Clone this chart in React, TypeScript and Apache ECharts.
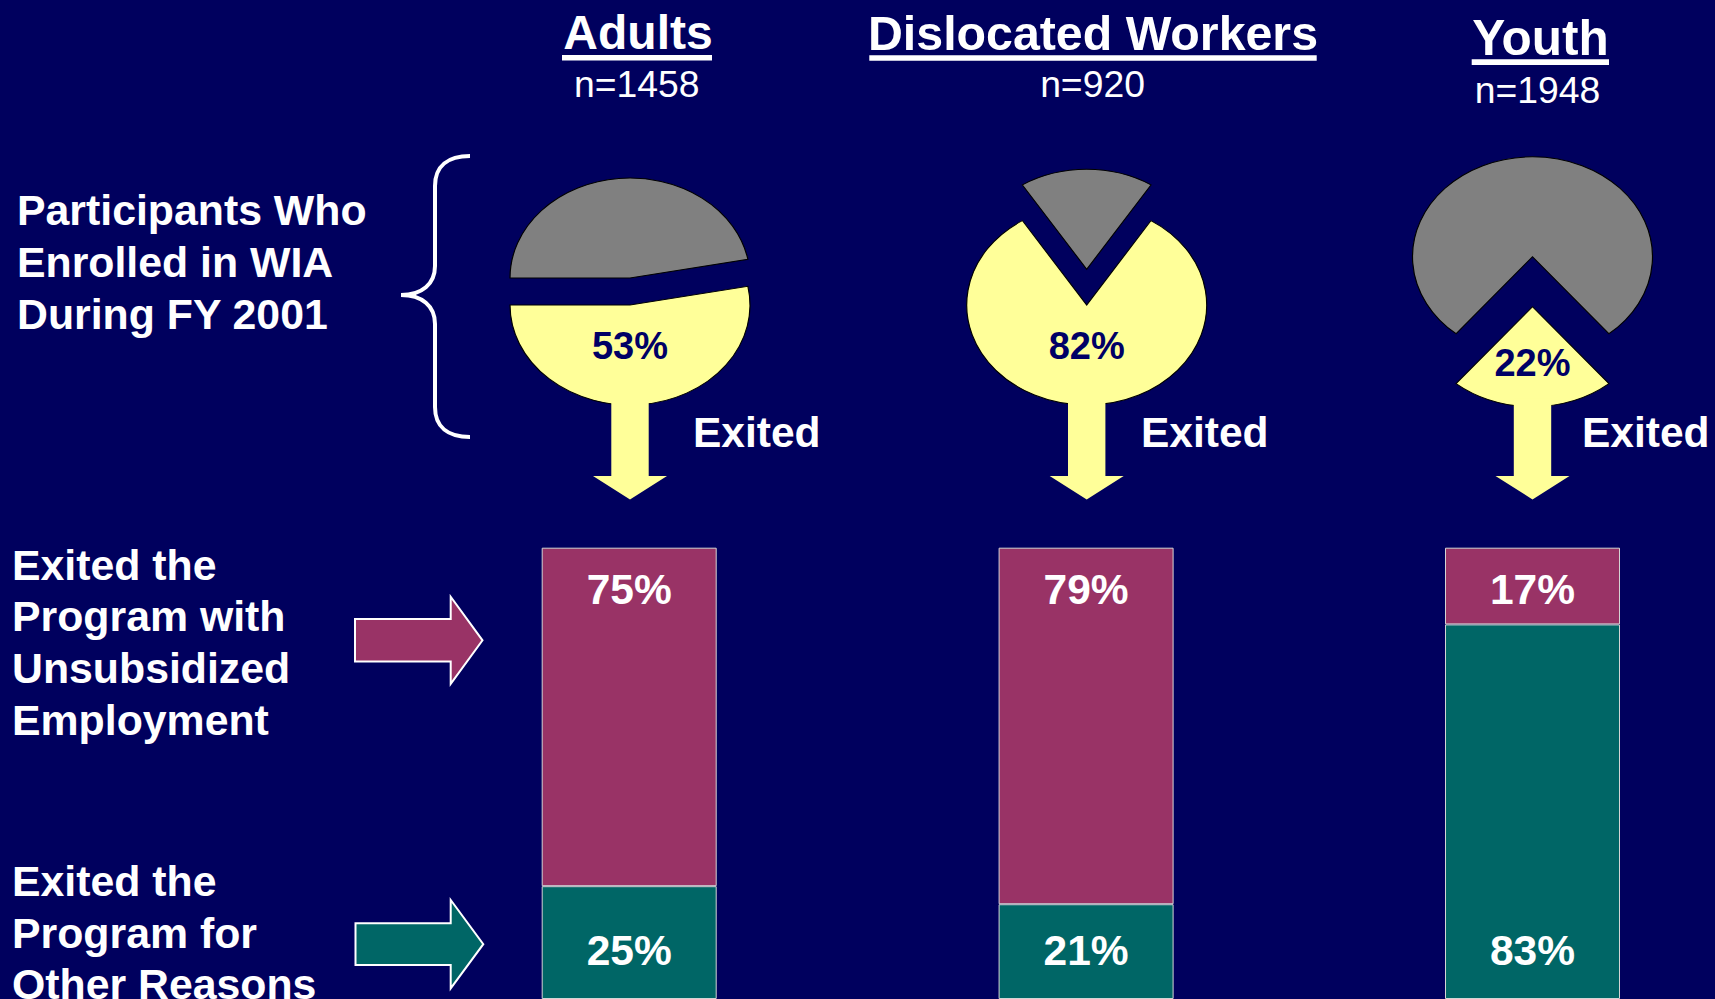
import React, { useEffect, useRef } from 'react';
import * as echarts from 'echarts';

// ---------- data ----------
const groups = ['Adults', 'Dislocated Workers', 'Youth'];
const nCounts = [1458, 920, 1948];
const exitedPct = [53, 82, 22];
const employedPct = [75, 79, 17];
const otherPct = [25, 21, 83];
const rowLabels = [
  'Participants Who\nEnrolled in WIA\nDuring FY 2001',
  'Exited the\nProgram with\nUnsubsidized\nEmployment',
  'Exited the\nProgram for\nOther Reasons',
];
const exitedLabel = 'Exited';

// ---------- style / layout ----------
const BG = '#00005E';
const NAVY = '#000066';
const PURPLE = '#993366';
const TEAL = '#006666';
const GRAY = '#808080';
const YELLOW = '#FFFF99';
const FONT = '"Liberation Sans", Arial, Helvetica, sans-serif';

const barLeft = [541.7, 998.6, 1445];
const BAR_W = 175;
const BAR_TOP = 547.7;
const BAR_H = 451.5;

const RX = 120;
const RY = 100;
const pieLayout = [
  { cx: 630, grayCy: 278, yellowCy: 305, mode: 'end', angle: Math.PI, labelY: 345.5, exitedX: 693 },
  { cx: 1086.7, grayCy: 269.3, yellowCy: 305, mode: 'center', angle: Math.PI / 2, labelY: 345.8, exitedX: 1141 },
  { cx: 1532.5, grayCy: 256.7, yellowCy: 306.7, mode: 'center', angle: Math.PI / 2, labelY: 363, exitedX: 1582 },
];
const EXITED_Y = 432.5;

const titleLayout = [
  { x: 638, y: 32.5, size: 48, ulX: 562, ulY: 55, ulW: 150, ulH: 5.5, nX: 636.7, nY: 84 },
  { x: 1093, y: 32.5, size: 48.3, ulX: 869.3, ulY: 55.3, ulW: 447.4, ulH: 5.4, nX: 1092.5, nY: 84 },
  { x: 1540.5, y: 37.5, size: 49.5, ulX: 1471.7, ulY: 59.3, ulW: 137.3, ulH: 5.7, nX: 1537.5, nY: 89.5 },
];

const rowLabelLayout = [
  { x: 17, y: 262 },
  { x: 12, y: 642.2 },
  { x: 12, y: 932.7 },
];
const ROW_LH = 51.7;

const BRACE_D =
  'M470,156 C448,156 435,166 435,186 L435,266 C435,284 422,295 401,295 C422,295 435,306 435,324 L435,407 C435,427 448,437 470,437';
echarts.graphic.registerShape('brace', echarts.graphic.extendPath(BRACE_D, {}) as any);

function hArrow(x0: number, xb: number, xt: number, cy: number, sh: number, hh: number) {
  return [
    [x0, cy - sh],
    [xb, cy - sh],
    [xb, cy - hh],
    [xt, cy],
    [xb, cy + hh],
    [xb, cy + sh],
    [x0, cy + sh],
  ];
}

export default function App() {
  const ref = useRef<HTMLDivElement>(null);

  useEffect(() => {
    if (!ref.current) return;
    const chart = echarts.init(ref.current, null, { renderer: 'svg' });

    const grids = groups.map((_, i) => ({
      left: barLeft[i],
      top: BAR_TOP,
      width: BAR_W,
      height: BAR_H,
      containLabel: false,
    }));
    const xAxes = groups.map((g, i) => ({
      type: 'category',
      gridIndex: i,
      data: [g],
      show: false,
    }));
    const yAxes = groups.map((_, i) => ({
      type: 'value',
      gridIndex: i,
      min: 0,
      max: 100,
      show: false,
    }));

    const barLabel = {
      show: true,
      formatter: '{c}%',
      color: '#ffffff',
      fontSize: 42.5,
      fontWeight: 'bold',
      fontFamily: FONT,
    };

    const barSeries: any[] = [];
    groups.forEach((_, i) => {
      barSeries.push({
        type: 'bar',
        name: 'Other Reasons',
        xAxisIndex: i,
        yAxisIndex: i,
        stack: 'g' + i,
        barWidth: '100%',
        data: [otherPct[i]],
        itemStyle: { color: TEAL, borderColor: '#d4d4d4', borderWidth: 1 },
        label: { ...barLabel, position: 'insideBottom', distance: 27 },
        silent: true,
      });
      barSeries.push({
        type: 'bar',
        name: 'Unsubsidized Employment',
        xAxisIndex: i,
        yAxisIndex: i,
        stack: 'g' + i,
        barWidth: '100%',
        data: [employedPct[i]],
        itemStyle: { color: PURPLE, borderColor: '#d4d4d4', borderWidth: 1 },
        label: { ...barLabel, position: 'insideTop', distance: 20.5 },
        silent: true,
      });
    });

    const pieSeries = {
      type: 'custom',
      coordinateSystem: 'none',
      silent: true,
      data: exitedPct.map((v, i) => [i, v]),
      renderItem: (_params: any, api: any) => {
        const i = api.value(0) as number;
        const p = api.value(1) as number;
        const L = pieLayout[i];
        const span = (p / 100) * Math.PI * 2;
        let ys: number;
        let ye: number;
        if (L.mode === 'end') {
          ye = L.angle;
          ys = ye - span;
        } else {
          ys = L.angle - span / 2;
          ye = L.angle + span / 2;
        }
        const gs = ye;
        const ge = ys + Math.PI * 2;
        const sy = RY / RX;
        const cx = L.cx;
        const sw = 18.7;
        const hw = 37;
        const top = L.yellowCy + RY - 8;
        const base = 476;
        const tip = 499.5;
        return {
          type: 'group',
          children: [
            {
              type: 'group',
              x: cx,
              y: L.grayCy,
              scaleY: sy,
              children: [
                {
                  type: 'sector',
                  shape: { cx: 0, cy: 0, r0: 0, r: RX, startAngle: gs, endAngle: ge, clockwise: true },
                  style: { fill: GRAY, stroke: '#000000', lineWidth: 1.2 },
                },
              ],
            },
            {
              type: 'group',
              x: cx,
              y: L.yellowCy,
              scaleY: sy,
              children: [
                {
                  type: 'sector',
                  shape: { cx: 0, cy: 0, r0: 0, r: RX, startAngle: ys, endAngle: ye, clockwise: true },
                  style: { fill: YELLOW, stroke: '#000000', lineWidth: 1.2 },
                },
              ],
            },
            {
              type: 'polygon',
              shape: {
                points: [
                  [cx - sw, top],
                  [cx + sw, top],
                  [cx + sw, base],
                  [cx + hw, base],
                  [cx, tip],
                  [cx - hw, base],
                  [cx - sw, base],
                ],
              },
              style: { fill: YELLOW },
            },
            {
              type: 'text',
              x: cx,
              y: L.labelY,
              style: {
                text: p + '%',
                fill: NAVY,
                fontSize: 38,
                fontWeight: 'bold',
                fontFamily: FONT,
                align: 'center',
                verticalAlign: 'middle',
              },
            },
          ],
        };
      },
    };

    const graphics: any[] = [];
    groups.forEach((g, i) => {
      const T = titleLayout[i];
      graphics.push({
        type: 'text',
        x: T.x,
        y: T.y,
        style: {
          text: g,
          fill: '#ffffff',
          fontSize: T.size,
          fontWeight: 'bold',
          fontFamily: FONT,
          align: 'center',
          verticalAlign: 'middle',
        },
      });
      graphics.push({
        type: 'rect',
        shape: { x: T.ulX, y: T.ulY, width: T.ulW, height: T.ulH },
        style: { fill: '#ffffff' },
      });
      graphics.push({
        type: 'text',
        x: T.nX,
        y: T.nY,
        style: {
          text: 'n=' + nCounts[i],
          fill: '#ffffff',
          fontSize: 37.3,
          fontFamily: FONT,
          align: 'center',
          verticalAlign: 'middle',
        },
      });
      graphics.push({
        type: 'text',
        x: pieLayout[i].exitedX,
        y: EXITED_Y,
        style: {
          text: exitedLabel,
          fill: '#ffffff',
          fontSize: 42.5,
          fontWeight: 'bold',
          fontFamily: FONT,
          align: 'left',
          verticalAlign: 'middle',
        },
      });
    });

    rowLabels.forEach((t, i) => {
      const R = rowLabelLayout[i];
      graphics.push({
        type: 'text',
        x: R.x,
        y: R.y,
        style: {
          text: t,
          fill: '#ffffff',
          fontSize: 42.8,
          fontWeight: 'bold',
          fontFamily: FONT,
          lineHeight: ROW_LH,
          align: 'left',
          verticalAlign: 'middle',
        },
      });
    });

    graphics.push({
      type: 'brace',
      x: 0,
      y: 0,
      style: { stroke: '#ffffff', lineWidth: 4, fill: 'none' },
    });

    graphics.push({
      type: 'polygon',
      shape: { points: hArrow(355, 450.7, 482.5, 640.3, 21.3, 43.6) },
      style: { fill: PURPLE, stroke: '#ffffff', lineWidth: 2 },
    });
    graphics.push({
      type: 'polygon',
      shape: { points: hArrow(355.5, 450.7, 483.3, 944.2, 20.9, 44.2) },
      style: { fill: TEAL, stroke: '#ffffff', lineWidth: 2 },
    });

    chart.setOption({
      animation: false,
      backgroundColor: BG,
      tooltip: { show: false },
      grid: grids,
      xAxis: xAxes,
      yAxis: yAxes,
      series: [...barSeries, pieSeries],
      graphic: { elements: graphics.map((g) => ({ silent: true, ...g })) },
    });

    return () => {
      chart.dispose();
    };
  }, []);

  return (
    <div
      ref={ref}
      style={{ position: 'absolute', left: 0, top: 0, width: 1715, height: 999 }}
    />
  );
}
